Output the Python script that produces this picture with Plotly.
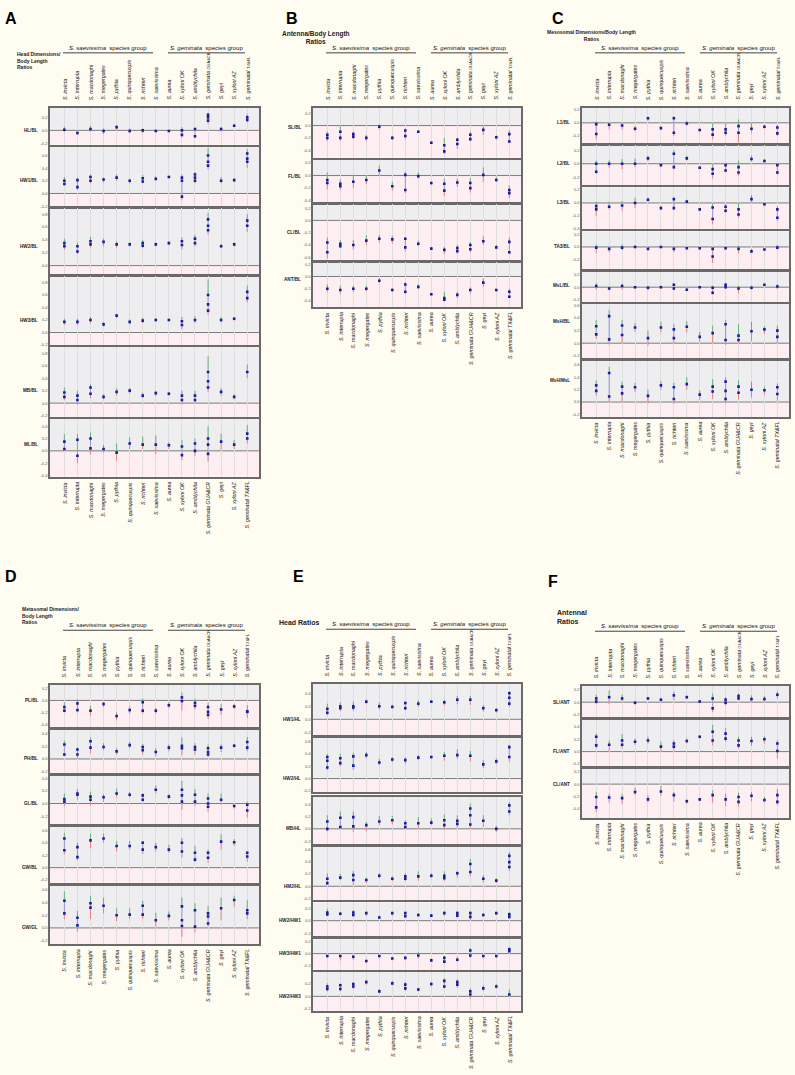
import plotly.graph_objects as go

W, H = 795, 1075

SPECIES = ["S. invicta", "S. interrupta", "S. macdonaghi", "S. megergates", "S. pythia",
           "S. quinquecuspis", "S. richteri", "S. saevissima", "S. aurea", "S. xyloni OK",
           "S. amblychila", "S. geminata GUA&CR", "S. geyi", "S. xyloni AZ", "S. geminata TX&FL"]
TOP_SPECIES = SPECIES[:11] + ["S. geminata §GUA&CR", "S. geyi", "S. xyloni AZ", "S. geminatal §TX&FL"]
BOTTOM_SPECIES = SPECIES[:14] + ["S. geminatal TX&FL"]

# ---------------- Panel A : Head dimensions / body length ----------------
A_HL_mean = [[0.01], [-0.04], [0.02], [-0.01], [0.05], [-0.01], [0.0], [-0.01], [-0.01], [0.0, -0.07],
             [0.02, -0.09], [0.24, 0.2, 0.15], [0.02], [0.07], [0.2, 0.16]]
A_HL_lo = [-0.03, -0.07, -0.02, -0.06, 0.0, -0.04, -0.04, -0.03, -0.03, -0.11, -0.12, 0.1, -0.02, 0.05, 0.12]
A_HL_hi = [0.06, 0.0, 0.07, 0.03, 0.08, 0.03, 0.03, 0.01, 0.01, 0.05, 0.04, 0.27, 0.05, 0.1, 0.25]

A_HW1_mean = [[0.2, 0.15], [0.21, 0.1], [0.26, 0.2], [0.22], [0.25], [0.2], [0.24, 0.19], [0.23], [0.26],
              [0.25, 0.2, -0.05], [0.3, 0.25, 0.2], [0.6, 0.5, 0.44], [0.2], [0.21], [0.63, 0.55, 0.5]]
A_HW1_lo = [0.13, 0.06, 0.16, 0.17, 0.2, 0.16, 0.16, 0.21, 0.24, -0.1, 0.16, 0.38, 0.16, 0.18, 0.4]
A_HW1_hi = [0.26, 0.25, 0.3, 0.25, 0.3, 0.23, 0.29, 0.27, 0.28, 0.3, 0.34, 0.72, 0.26, 0.24, 0.7]

A_HW2_mean = [[0.35, 0.3], [0.3, 0.22], [0.38, 0.33], [0.37], [0.33], [0.33], [0.35, 0.31], [0.33], [0.35],
              [0.38, 0.32], [0.42, 0.35], [0.72, 0.62, 0.55], [0.3], [0.33], [0.7, 0.62]]
A_HW2_lo = [0.25, 0.18, 0.28, 0.3, 0.28, 0.3, 0.27, 0.3, 0.32, 0.25, 0.3, 0.48, 0.27, 0.3, 0.52]
A_HW2_hi = [0.42, 0.36, 0.45, 0.42, 0.38, 0.36, 0.4, 0.36, 0.38, 0.44, 0.48, 0.82, 0.34, 0.36, 0.8]

A_HW3_mean = [[0.17], [0.17], [0.2], [0.13], [0.27], [0.17], [0.19], [0.2], [0.2], [0.18, 0.12], [0.2],
              [0.6, 0.45, 0.35], [0.2], [0.22], [0.65, 0.55]]
A_HW3_lo = [0.12, 0.12, 0.15, 0.1, 0.23, 0.13, 0.15, 0.17, 0.18, 0.05, 0.15, 0.28, 0.16, 0.19, 0.48]
A_HW3_hi = [0.22, 0.22, 0.25, 0.17, 0.3, 0.21, 0.24, 0.23, 0.22, 0.25, 0.26, 0.85, 0.25, 0.25, 0.75]

A_MB_mean = [[0.17, 0.1], [0.12, 0.05], [0.25, 0.15], [0.1], [0.18], [0.2], [0.12], [0.16], [0.15], [0.12, 0.05],
             [0.12, 0.05], [0.5, 0.35, 0.25], [0.18], [0.1], [0.5]]
A_MB_lo = [0.05, -0.02, 0.08, 0.06, 0.12, 0.15, 0.08, 0.12, 0.12, -0.02, 0.0, 0.18, 0.12, 0.06, 0.4]
A_MB_hi = [0.25, 0.2, 0.3, 0.14, 0.24, 0.24, 0.17, 0.2, 0.18, 0.2, 0.2, 0.75, 0.24, 0.14, 0.62]

A_ML_mean = [[0.15, 0.03], [0.18, -0.08], [0.2, 0.04], [0.03], [-0.03], [0.12], [0.1], [0.1], [0.09], [0.07, -0.07],
             [0.12, 0.0], [0.2, 0.1, -0.05], [0.15], [0.1], [0.28, 0.2]]
A_ML_lo = [0.0, -0.2, -0.06, -0.03, -0.16, 0.03, 0.03, -0.05, 0.03, -0.15, -0.08, -0.18, 0.02, 0.03, 0.12]
A_ML_hi = [0.27, 0.27, 0.3, 0.1, 0.12, 0.22, 0.23, 0.25, 0.14, 0.18, 0.2, 0.4, 0.28, 0.18, 0.42]

# ---------------- Panel B : Antenna / body length ----------------
B_SL_mean = [[-0.15, -0.2], [-0.1, -0.2], [-0.14, -0.18], [-0.2], [-0.02], [-0.2], [-0.08, -0.17], [-0.1], [-0.28],
             [-0.32, -0.42], [-0.23, -0.3], [-0.15, -0.22], [-0.07], [-0.19], [-0.14, -0.26]]
B_SL_lo = [-0.25, -0.25, -0.22, -0.25, -0.06, -0.23, -0.22, -0.12, -0.3, -0.46, -0.38, -0.25, -0.15, -0.23, -0.28]
B_SL_hi = [-0.1, 0.0, -0.1, -0.15, 0.02, -0.17, -0.05, -0.08, -0.26, -0.2, -0.2, -0.1, 0.0, -0.16, -0.08]

B_FL_mean = [[-0.07, -0.12], [-0.13, -0.17], [-0.1], [-0.07], [0.08], [-0.17], [0.01, -0.23], [-0.01], [-0.12],
             [-0.13, -0.24], [-0.11], [-0.12, -0.2], [0.01], [-0.07], [-0.23, -0.28]]
B_FL_lo = [-0.22, -0.23, -0.2, -0.14, 0.0, -0.24, -0.28, -0.05, -0.15, -0.32, -0.18, -0.27, -0.1, -0.1, -0.36]
B_FL_hi = [0.05, -0.06, 0.01, 0.0, 0.16, -0.1, 0.06, 0.05, -0.1, -0.05, -0.05, -0.04, 0.13, -0.02, -0.16]

B_CL_mean = [[-0.36, -0.52], [-0.38, -0.42], [-0.4], [-0.33], [-0.3], [-0.31], [-0.3, -0.44], [-0.38], [-0.46],
             [-0.48], [-0.45, -0.5], [-0.4, -0.47], [-0.34], [-0.44], [-0.35, -0.52]]
B_CL_lo = [-0.62, -0.44, -0.47, -0.4, -0.36, -0.38, -0.5, -0.42, -0.48, -0.55, -0.54, -0.52, -0.4, -0.47, -0.55]
B_CL_hi = [-0.28, -0.32, -0.32, -0.24, -0.24, -0.25, -0.28, -0.33, -0.44, -0.43, -0.4, -0.35, -0.26, -0.4, -0.28]

B_ANT_mean = [[-0.2], [-0.22], [-0.2], [-0.2], [-0.07], [-0.22], [-0.13, -0.25], [-0.17], [-0.29], [-0.35, -0.38],
              [-0.3], [-0.22], [-0.1], [-0.22], [-0.25, -0.33]]
B_ANT_lo = [-0.25, -0.28, -0.26, -0.24, -0.1, -0.25, -0.28, -0.2, -0.3, -0.4, -0.35, -0.28, -0.17, -0.25, -0.35]
B_ANT_hi = [-0.13, -0.15, -0.15, -0.15, -0.03, -0.19, -0.1, -0.13, -0.28, -0.25, -0.25, -0.18, -0.03, -0.2, -0.2]

# ---------------- Panel C : Mesosomal dimensions / body length ----------------
C_L1_mean = [[-0.02, -0.17], [-0.03], [-0.04], [-0.09], [0.07], [-0.08], [0.07, -0.15], [-0.01], [-0.11],
             [-0.1, -0.18], [-0.1, -0.15], [-0.05, -0.15], [-0.09], [-0.06], [-0.07, -0.16]]
C_L1_lo = [-0.25, -0.1, -0.1, -0.13, 0.03, -0.1, -0.2, -0.04, -0.13, -0.25, -0.2, -0.3, -0.15, -0.09, -0.2]
C_L1_hi = [0.02, 0.0, 0.0, -0.05, 0.1, -0.06, 0.1, 0.03, -0.09, 0.0, 0.0, 0.05, 0.0, -0.03, -0.03]

C_L2_mean = [[0.0, -0.12], [0.0], [0.0], [0.0], [0.08], [-0.02], [0.15, -0.05], [0.08], [-0.06], [-0.08, -0.15],
             [-0.02, -0.1], [-0.05, -0.13], [0.07], [0.04], [-0.02, -0.13]]
C_L2_lo = [-0.15, -0.06, -0.08, -0.05, 0.04, -0.04, -0.08, 0.05, -0.08, -0.22, -0.12, -0.18, 0.03, 0.0, -0.16]
C_L2_hi = [0.05, 0.05, 0.07, 0.08, 0.12, 0.0, 0.2, 0.12, -0.04, 0.0, 0.0, 0.05, 0.12, 0.07, 0.0]

C_L3_mean = [[-0.05, -0.1], [-0.06], [-0.04], [0.0], [0.05], [-0.08], [0.06, -0.08], [0.02], [-0.1],
             [-0.07, -0.25], [-0.06, -0.12], [-0.1, -0.18], [0.06], [-0.02], [-0.1, -0.23]]
C_L3_lo = [-0.2, -0.1, -0.12, -0.08, 0.02, -0.1, -0.1, -0.01, -0.12, -0.33, -0.15, -0.23, 0.0, -0.05, -0.28]
C_L3_hi = [0.02, 0.02, 0.03, 0.08, 0.08, -0.05, 0.08, 0.05, -0.08, 0.0, -0.02, 0.0, 0.12, 0.0, -0.05]

C_TA_mean = [[-0.01], [-0.03], [-0.01], [0.0], [-0.03], [0.0], [-0.03], [-0.02], [-0.02], [-0.03, -0.15],
             [-0.02], [-0.03], [-0.07], [-0.04], [-0.01]]
C_TA_lo = [-0.1, -0.08, -0.05, -0.02, -0.05, -0.02, -0.08, -0.03, -0.04, -0.25, -0.04, -0.1, -0.09, -0.05, -0.04]
C_TA_hi = [0.04, 0.0, 0.04, 0.03, -0.01, 0.01, 0.01, 0.0, 0.0, 0.0, 0.01, 0.02, -0.03, -0.02, 0.03]

C_MSL_mean = [[0.02], [-0.02], [0.02], [0.0], [-0.01], [0.0], [0.04, -0.02], [-0.04], [0.0], [-0.01, -0.09],
              [0.04, 0.0], [-0.02], [-0.01], [0.04], [0.01]]
C_MSL_lo = [-0.04, -0.05, -0.04, -0.02, -0.05, -0.02, -0.04, -0.06, -0.01, -0.12, -0.02, -0.1, -0.04, 0.02, -0.03]
C_MSL_hi = [0.06, 0.01, 0.06, 0.02, 0.02, 0.03, 0.06, 0.0, 0.01, 0.02, 0.07, 0.02, 0.02, 0.05, 0.05]

C_MSH_mean = [[0.27, 0.14], [0.43, 0.06], [0.28, 0.13], [0.25], [0.08], [0.25], [0.22, 0.08], [0.26], [0.1],
              [0.16], [0.3, 0.05], [0.12, 0.05], [0.19], [0.22], [0.2, 0.1]]
C_MSH_lo = [0.07, -0.02, 0.0, 0.18, -0.04, 0.17, 0.0, 0.17, 0.02, 0.0, -0.03, 0.0, 0.03, 0.15, 0.0]
C_MSH_hi = [0.37, 0.53, 0.37, 0.32, 0.2, 0.34, 0.3, 0.35, 0.18, 0.28, 0.37, 0.3, 0.34, 0.27, 0.28]

C_MSHL_mean = [[0.27, 0.18], [0.47, 0.09], [0.25, 0.14], [0.24], [0.1], [0.27], [0.24, 0.05], [0.29], [0.12],
               [0.25, 0.17], [0.33, 0.18, 0.05], [0.25, 0.15], [0.2], [0.19], [0.24, 0.13]]
C_MSHL_lo = [0.1, 0.0, 0.0, 0.16, -0.02, 0.2, -0.03, 0.2, 0.03, 0.05, -0.02, 0.04, 0.07, 0.12, 0.02]
C_MSHL_hi = [0.35, 0.57, 0.33, 0.31, 0.2, 0.34, 0.31, 0.4, 0.19, 0.37, 0.4, 0.35, 0.33, 0.25, 0.3]

# ---------------- Panel D : Metasomal dimensions / body length ----------------
D_PL_mean = [[-0.11, -0.17], [-0.05, -0.16], [-0.17], [-0.06], [-0.26], [-0.16], [-0.03, -0.17], [-0.17], [-0.08],
             [0.05, -0.01], [-0.04, -0.09], [-0.11, -0.19, -0.24], [-0.15], [-0.1], [-0.18, -0.19]]
D_PL_lo = [-0.2, -0.2, -0.25, -0.11, -0.33, -0.22, -0.22, -0.22, -0.13, -0.17, -0.15, -0.31, -0.24, -0.14, -0.29]
D_PL_hi = [-0.03, 0.02, -0.09, -0.02, -0.2, -0.1, 0.03, -0.13, -0.03, 0.13, 0.03, -0.04, -0.06, -0.06, -0.08]

D_PH_mean = [[0.23, 0.07], [0.15, 0.07], [0.28, 0.18], [0.19], [0.12], [0.22], [0.19, 0.14], [0.11], [0.18],
             [0.21, 0.17], [0.19, 0.15], [0.17, 0.11, 0.07], [0.18], [0.21], [0.27, 0.18]]
D_PH_lo = [0.05, 0.0, 0.09, 0.14, 0.07, 0.17, 0.07, 0.04, 0.12, 0.06, 0.07, 0.03, 0.11, 0.18, 0.12]
D_PH_hi = [0.29, 0.18, 0.34, 0.25, 0.17, 0.27, 0.24, 0.17, 0.23, 0.34, 0.25, 0.23, 0.23, 0.24, 0.35]

D_GL_mean = [[0.07, 0.03], [0.16, 0.14], [0.11, 0.06], [0.1], [0.16], [0.14], [0.13, 0.06], [0.22], [0.11],
             [0.22, 0.13, 0.03], [0.14, 0.03], [0.08, 0.0, -0.05], [0.06], [-0.04], [-0.02, -0.11]]
D_GL_lo = [-0.04, 0.06, -0.03, 0.02, 0.1, 0.1, 0.02, 0.16, 0.07, -0.1, -0.04, -0.13, -0.02, -0.08, -0.22]
D_GL_hi = [0.16, 0.23, 0.19, 0.15, 0.24, 0.18, 0.16, 0.29, 0.15, 0.36, 0.23, 0.16, 0.16, -0.01, 0.03]

D_GW_mean = [[0.47, 0.28], [0.33, 0.17], [0.44], [0.47], [0.35], [0.35], [0.4, 0.29], [0.33], [0.29],
             [0.4, 0.26], [0.24, 0.13], [0.24, 0.16], [0.42], [0.41], [0.24, 0.18]]
D_GW_lo = [0.21, 0.12, 0.31, 0.4, 0.26, 0.29, 0.22, 0.26, 0.24, 0.16, 0.09, 0.08, 0.29, 0.35, 0.1]
D_GW_hi = [0.56, 0.4, 0.55, 0.55, 0.43, 0.43, 0.43, 0.4, 0.37, 0.48, 0.35, 0.29, 0.54, 0.46, 0.26]

D_GWGL_mean = [[0.43, 0.23], [0.16, 0.04], [0.39, 0.32], [0.35], [0.2], [0.21], [0.35, 0.21], [0.12], [0.19],
               [0.34, 0.12, 0.03], [0.28, 0.02], [0.23, 0.18, 0.07], [0.31], [0.44], [0.28, 0.23]]
D_GWGL_lo = [0.14, -0.06, 0.14, 0.23, 0.11, 0.14, 0.14, 0.02, 0.12, -0.14, -0.07, 0.02, 0.12, 0.34, 0.14]
D_GWGL_hi = [0.58, 0.27, 0.51, 0.48, 0.31, 0.31, 0.43, 0.24, 0.26, 0.48, 0.39, 0.35, 0.48, 0.51, 0.44]

# ---------------- Panel E : Head ratios ----------------
E_HW1HL_mean = [[0.16, 0.1], [0.2, 0.17], [0.2, 0.18], [0.27], [0.2], [0.19], [0.25, 0.17], [0.24], [0.27],
                [0.26], [0.3], [0.3], [0.17], [0.14], [0.4, 0.33, 0.24]]
E_HW1HL_lo = [0.06, 0.13, 0.13, 0.23, 0.15, 0.17, 0.14, 0.19, 0.25, 0.21, 0.23, 0.22, 0.12, 0.1, 0.19]
E_HW1HL_hi = [0.24, 0.26, 0.27, 0.3, 0.26, 0.22, 0.27, 0.29, 0.29, 0.3, 0.36, 0.36, 0.22, 0.17, 0.43]

E_HW2HL_mean = [[0.35, 0.29, 0.18], [0.33, 0.25], [0.36, 0.21], [0.38], [0.26], [0.31], [0.3], [0.34], [0.35],
                [0.37], [0.38], [0.37], [0.23], [0.28], [0.51, 0.35]]
E_HW2HL_lo = [0.14, 0.2, 0.14, 0.33, 0.22, 0.26, 0.24, 0.3, 0.32, 0.29, 0.32, 0.27, 0.17, 0.23, 0.27]
E_HW2HL_hi = [0.4, 0.4, 0.42, 0.43, 0.32, 0.35, 0.35, 0.38, 0.37, 0.43, 0.48, 0.45, 0.3, 0.33, 0.55]

E_MBHL_mean = [[0.12, 0.0], [0.18, 0.03], [0.19, 0.04], [0.06], [0.12], [0.14], [0.09, 0.03], [0.09], [0.1],
               [0.14, 0.06], [0.13, 0.08], [0.33, 0.22, 0.07], [0.13], [0.0], [0.38, 0.28]]
E_MBHL_lo = [-0.04, -0.0, -0.05, -0.04, 0.06, 0.07, -0.0, 0.0, 0.06, -0.02, 0.02, -0.0, 0.03, -0.05, 0.22]
E_MBHL_hi = [0.22, 0.28, 0.28, 0.11, 0.21, 0.21, 0.14, 0.19, 0.17, 0.23, 0.22, 0.41, 0.22, 0.05, 0.43]

E_HM2HL_mean = [[0.12, 0.05], [0.14], [0.18, 0.1], [0.1], [0.17], [0.12], [0.16, 0.12], [0.16], [0.17],
                [0.17, 0.13], [0.21], [0.36, 0.23], [0.12], [0.09], [0.49, 0.39, 0.31]]
E_HM2HL_lo = [0.02, 0.1, 0.02, 0.05, 0.13, 0.08, 0.08, 0.09, 0.13, 0.09, 0.14, 0.16, 0.06, 0.05, 0.25]
E_HM2HL_hi = [0.21, 0.2, 0.25, 0.14, 0.21, 0.16, 0.21, 0.24, 0.21, 0.24, 0.25, 0.44, 0.18, 0.13, 0.55]

E_HW2HW1_mean = [[0.13, 0.1], [0.11], [0.13, 0.09], [0.12], [0.05], [0.12], [0.12, 0.07], [0.09], [0.08],
                 [0.12], [0.12, 0.08], [0.12, 0.06], [0.09], [0.12], [0.1, 0.06]]
E_HW2HW1_lo = [0.08, 0.08, 0.06, 0.08, 0.03, 0.08, 0.05, 0.06, 0.06, 0.08, 0.05, 0.01, 0.06, 0.09, 0.03]
E_HW2HW1_hi = [0.19, 0.14, 0.17, 0.14, 0.08, 0.14, 0.14, 0.12, 0.1, 0.15, 0.15, 0.15, 0.12, 0.14, 0.14]

E_HW3HW1_mean = [[-0.04], [-0.04], [-0.05], [-0.12], [-0.04], [-0.08], [-0.07], [-0.03], [-0.11],
                 [-0.07, -0.13], [-0.1], [0.05, -0.03], [-0.04], [-0.04], [0.07, 0.04]]
E_HW3HW1_lo = [-0.07, -0.11, -0.1, -0.15, -0.07, -0.11, -0.1, -0.08, -0.13, -0.16, -0.13, -0.07, -0.07, -0.07,
               0.02]
E_HW3HW1_hi = [-0.02, -0.01, -0.02, -0.1, -0.02, -0.05, -0.04, 0.03, -0.08, -0.04, -0.05, 0.09, -0.02, -0.02,
               0.11]

E_HW2HW3_mean = [[0.16, 0.12], [0.18, 0.12], [0.2, 0.16], [0.23], [0.08], [0.21], [0.19, 0.13], [0.11], [0.2],
                 [0.25, 0.16], [0.23, 0.19], [0.08, 0.03], [0.13], [0.16], [0.03]]
E_HW2HW3_lo = [0.08, 0.08, 0.12, 0.19, 0.05, 0.18, 0.09, 0.08, 0.16, 0.13, 0.14, -0.04, 0.09, 0.13, 0.0]
E_HW2HW3_hi = [0.21, 0.21, 0.23, 0.27, 0.12, 0.25, 0.23, 0.14, 0.23, 0.29, 0.28, 0.13, 0.18, 0.2, 0.11]

# ---------------- Panel F : Antennal ratios ----------------
F_SLANT_mean = [[0.06, 0.01], [0.08], [0.06], [-0.01], [0.06], [0.04], [0.11], [0.08], [0.01], [0.06, -0.1],
                [0.04, -0.01], [0.1, 0.06], [0.05], [0.05], [0.12]]
F_SLANT_lo = [-0.03, -0.03, 0.01, -0.04, 0.04, 0.01, 0.03, 0.05, -0.01, -0.16, -0.05, 0.03, 0.0, 0.01, 0.06]
F_SLANT_hi = [0.12, 0.19, 0.12, 0.01, 0.08, 0.06, 0.17, 0.11, 0.03, 0.14, 0.08, 0.14, 0.11, 0.1, 0.17]

F_FLANT_mean = [[0.24, 0.1], [0.11], [0.18, 0.11], [0.16], [0.18], [0.08], [0.13, 0.08], [0.17], [0.24],
                [0.32, 0.18], [0.29, 0.21], [0.18, 0.1], [0.17], [0.2], [0.13, 0.01]]
F_FLANT_lo = [0.05, 0.01, 0.05, 0.11, 0.13, 0.01, 0.02, 0.13, 0.21, 0.1, 0.16, 0.05, 0.09, 0.13, -0.11]
F_FLANT_hi = [0.29, 0.18, 0.28, 0.21, 0.24, 0.16, 0.18, 0.21, 0.26, 0.43, 0.38, 0.24, 0.24, 0.25, 0.18]

F_CLANT_mean = [[-0.21, -0.38], [-0.22], [-0.23], [-0.13], [-0.25], [-0.12], [-0.18], [-0.28], [-0.25],
                [-0.18], [-0.25], [-0.21, -0.29], [-0.19], [-0.26], [-0.18, -0.29]]
F_CLANT_lo = [-0.46, -0.3, -0.32, -0.18, -0.3, -0.19, -0.29, -0.32, -0.28, -0.3, -0.36, -0.37, -0.28, -0.3, -0.34]
F_CLANT_hi = [-0.13, -0.16, -0.16, -0.06, -0.18, -0.03, -0.13, -0.24, -0.23, -0.1, -0.16, -0.14, -0.13, -0.21,
              -0.08]

# ---------------- layout description (pixel positions) ----------------
T = [0.6, 0.4, 0.2, 0.0, -0.2, -0.4, -0.6, 0.8]
PANELS = [
    dict(letter="A", lx=3, ly=7, title="Head Dimensions/<br>Body Length<br>Ratios", tx=15, ty=48, tsize=5,
         talign="left", x0=50, x1=259,
         rows=[("HL/BL", A_HL_mean, A_HL_lo, A_HL_hi, (-0.22, 0.35), 107, 144, 0.0),
               ("HW1/BL", A_HW1_mean, A_HW1_lo, A_HW1_hi, (-0.22, 0.74), 146, 207, 0.2),
               ("HW2/BL", A_HW2_mean, A_HW2_lo, A_HW2_hi, (-0.15, 0.89), 208, 275, 0.3),
               ("HW3/BL", A_HW3_mean, A_HW3_lo, A_HW3_hi, (-0.2, 0.9), 276, 345, 0.2),
               ("MB/BL", A_MB_mean, A_MB_lo, A_MB_hi, (-0.22, 0.9), 347, 417, 0.2),
               ("ML/BL", A_ML_mean, A_ML_lo, A_ML_hi, (-0.42, 0.52), 419, 477, 0.1)]),
    dict(letter="B", lx=284, ly=7, title="Antenna/Body Length<br>Ratios", tx=280, ty=27, tsize=6.5,
         talign="center", x0=313, x1=521,
         rows=[("SL/BL", B_SL_mean, B_SL_lo, B_SL_hi, (-0.52, 0.29), 107, 157, -0.03),
               ("FL/BL", B_FL_mean, B_FL_lo, B_FL_hi, (-0.445, 0.255), 159, 203, -0.02),
               ("CL/BL", B_CL_mean, B_CL_lo, B_CL_hi, (-0.666, 0.26), 204, 261, -0.2),
               ("ANT/BL", B_ANT_mean, B_ANT_lo, B_ANT_hi, (-0.5, 0.232), 262, 307, -0.05)]),
    dict(letter="C", lx=550, ly=7, title="Mesosomal Dimensions/Body Length<br>Ratios", tx=545, ty=26, tsize=5,
         talign="center", x0=582, x1=789,
         rows=[("L1/BL", C_L1_mean, C_L1_lo, C_L1_hi, (-0.316, 0.23), 107, 143, 0.0),
               ("L2/BL", C_L2_mean, C_L2_lo, C_L2_hi, (-0.325, 0.286), 144, 185, 0.0),
               ("L3/BL", C_L3_mean, C_L3_lo, C_L3_hi, (-0.41, 0.24), 187, 229, 0.0),
               ("TA3/BL", C_TA_mean, C_TA_lo, C_TA_hi, (-0.35, 0.245), 231, 269, 0.0),
               ("MsL/BL", C_MSL_mean, C_MSL_lo, C_MSL_hi, (-0.24, 0.24), 272, 302, 0.03),
               ("MsH/BL", C_MSH_mean, C_MSH_lo, C_MSH_hi, (-0.235, 0.62), 304, 358, 0.35),
               ("MsH/MsL", C_MSHL_mean, C_MSHL_lo, C_MSHL_hi, (-0.24, 0.665), 361, 417, 0.35)]),
    dict(letter="D", lx=3, ly=567, title="Metasomal Dimensions/<br>Body Length<br>Ratios", tx=20, ty=605, tsize=5,
         talign="left", x0=50, x1=259,
         rows=[("PL/BL", D_PL_mean, D_PL_lo, D_PL_hi, (-0.44, 0.254), 686, 728, 0.0),
               ("PH/BL", D_PH_mean, D_PH_lo, D_PH_hi, (-0.22, 0.46), 731, 774, 0.0),
               ("GL/BL", D_GL_mean, D_GL_lo, D_GL_hi, (-0.32, 0.44), 777, 825, 0.0),
               ("GW/BL", D_GW_mean, D_GW_lo, D_GW_hi, (-0.24, 0.66), 828, 884, 0.0),
               ("GW/GL", D_GWGL_mean, D_GWGL_lo, D_GWGL_hi, (-0.26, 0.67), 887, 946, 0.0)]),
    dict(letter="E", lx=291, ly=567, title="Head Ratios", tx=277, ty=618, tsize=7, talign="left",
         x0=313, x1=521,
         rows=[("HW1/HL", E_HW1HL_mean, E_HW1HL_lo, E_HW1HL_hi, (-0.24, 0.54), 685, 736, 0.0),
               ("HW2/HL", E_HW2HL_mean, E_HW2HL_lo, E_HW2HL_hi, (-0.215, 0.66), 739, 793, 0.0),
               ("MB/HL", E_MBHL_mean, E_MBHL_lo, E_MBHL_hi, (-0.24, 0.52), 798, 845, 0.0),
               ("HM2/HL", E_HM2HL_mean, E_HM2HL_lo, E_HM2HL_hi, (-0.23, 0.64), 848, 902, 0.0),
               ("HW2/HW1", E_HW2HW1_mean, E_HW2HW1_lo, E_HW2HW1_hi, (-0.25, 0.29), 904, 938, 0.0),
               ("HW3/HW1", E_HW3HW1_mean, E_HW3HW1_lo, E_HW3HW1_hi, (-0.27, 0.23), 941, 972, 0.0),
               ("HW2/HW3", E_HW2HW3_mean, E_HW2HW3_lo, E_HW2HW3_hi, (-0.24, 0.39), 974, 1013, 0.0)]),
    dict(letter="F", lx=546, ly=572, title="Antennal<br>Ratios", tx=555, ty=608, tsize=7, talign="left",
         x0=582, x1=789,
         rows=[("SL/ANT", F_SLANT_mean, F_SLANT_lo, F_SLANT_hi, (-0.24, 0.26), 687, 718, 0.0),
               ("FL/ANT", F_FLANT_mean, F_FLANT_lo, F_FLANT_hi, (-0.23, 0.51), 721, 767, 0.0),
               ("CL/ANT", F_CLANT_mean, F_CLANT_lo, F_CLANT_hi, (-0.55, 0.25), 770, 819, 0.0)]),
]

FONT = "Arial, Liberation Sans, sans-serif"
GREEN, RED, BLUE, MID = "#55ad6f", "#f07373", "#1c1c9e", "#8a80c8"
GRAY_BG, PINK_BG = "#eeeef1", "#fdeef1"


def fmt_tick(v):
    return "0.0" if abs(v) < 1e-9 else ("%.1f" % v)


def species_label(s):
    if "§" in s:
        a, b = s.split("§")
        return "<i>%s</i><span style='font-size:4px'>%s</span>" % (a, b.replace("&", "&amp;"))
    return "<i>%s</i>" % s.replace("&", "&amp;")


def axname(letter, k):
    return letter if k == 1 else "%s%d" % (letter, k)


fig = go.Figure()
layout = {}
shapes, annots = [], []
k = 0
for P in PANELS:
    x0, x1 = P["x0"], P["x1"]
    first_k = k + 1
    for (lab, means, lo, hi, yr, top, bot, laby) in P["rows"]:
        k += 1
        xa, ya = axname("x", k), axname("y", k)
        xs = list(range(len(SPECIES)))
        gx, gy, rx, ry, mx, my, bx, by = [], [], [], [], [], [], [], []
        for i in xs:
            m = means[i]
            top_m, bot_m = max(m), min(m)
            gx += [i, i, None]; gy += [top_m, hi[i], None]
            rx += [i, i, None]; ry += [lo[i], bot_m, None]
            if len(m) > 1:
                mx += [i, i, None]; my += [bot_m, top_m, None]
            for v in m:
                bx.append(i); by.append(v)
        common = dict(xaxis=xa, yaxis=ya, showlegend=False, hoverinfo="skip")
        fig.add_trace(go.Scatter(x=mx, y=my, mode="lines", line=dict(color=MID, width=1), opacity=0.8, **common))
        fig.add_trace(go.Scatter(x=gx, y=gy, mode="lines", line=dict(color=GREEN, width=1), opacity=0.9, **common))
        fig.add_trace(go.Scatter(x=rx, y=ry, mode="lines", line=dict(color=RED, width=1), opacity=0.9, **common))
        fig.add_trace(go.Scatter(x=bx, y=by, mode="markers",
                                 marker=dict(color=BLUE, size=2.6, symbol="square"), **common))
        ticks = [t for t in sorted(set(T)) if yr[0] - 1e-9 <= t <= yr[1] + 1e-9]
        layout[axname("xaxis", k)] = dict(domain=[x0 / W, x1 / W], anchor=ya, range=[-1.1, 14.9],
                                         showticklabels=False, ticks="", tickvals=xs, showgrid=True,
                                         gridcolor="#dedede", gridwidth=0.5, zeroline=False,
                                         showline=True, mirror=True, linecolor="#6a6a6a", linewidth=1.5,
                                         fixedrange=True)
        layout[axname("yaxis", k)] = dict(domain=[1 - bot / H, 1 - top / H], anchor=xa, range=list(yr),
                                         tickvals=ticks, ticktext=[fmt_tick(t) for t in ticks],
                                         tickfont=dict(size=4, color="#555", family=FONT), ticks="",
                                         showgrid=False, zeroline=False, showline=True, mirror=True,
                                         linecolor="#6a6a6a", linewidth=1.5, fixedrange=True)
        shapes.append(dict(type="rect", xref=xa + " domain", yref=ya, x0=0, x1=1, y0=0, y1=yr[1],
                           fillcolor=GRAY_BG, line=dict(width=0), layer="below"))
        shapes.append(dict(type="line", xref=xa + " domain", yref=ya, x0=0, x1=1, y0=0, y1=0,
                           line=dict(color="#7c7c7c", width=1), layer="below"))
        annots.append(dict(text="<b>%s</b>" % lab, xref="paper", yref=ya, x=(x0 - 10) / W, y=laby,
                           xanchor="right", yanchor="middle", showarrow=False,
                           font=dict(size=4.6, color="#222", family=FONT)))
    last_k = k
    ptop = P["rows"][0][5]
    pbot = P["rows"][-1][6]
    for i in range(len(SPECIES)):
        annots.append(dict(text=species_label(TOP_SPECIES[i]), xref=axname("x", first_k), yref="paper",
                           x=i, y=1 - (ptop - 6) / H, xanchor="center", yanchor="bottom",
                           textangle=-90, showarrow=False, font=dict(size=5.3, color="#111", family=FONT)))
        annots.append(dict(text=species_label(BOTTOM_SPECIES[i]), xref=axname("x", last_k), yref="paper",
                           x=i, y=1 - (pbot + 3) / H, xanchor="center", yanchor="top",
                           textangle=-90, showarrow=False, font=dict(size=5.3, color="#111", family=FONT)))
    hy = ptop - 60
    for (txt, a, b) in [("<i>S. saevissima</i>  species group", 13, 103),
                        ("<i>S. geminata</i>  species group", 118, 195)]:
        annots.append(dict(text=txt, xref="paper", yref="paper", x=(x0 + (a + b) / 2) / W, y=1 - hy / H,
                           xanchor="center", yanchor="middle", showarrow=False,
                           font=dict(size=6, color="#111", family=FONT)))
        shapes.append(dict(type="line", xref="paper", yref="paper", x0=(x0 + a) / W, x1=(x0 + b) / W,
                           y0=1 - (hy + 5) / H, y1=1 - (hy + 5) / H, line=dict(color="#444", width=1)))
    annots.append(dict(text="<b>%s</b>" % P["letter"], xref="paper", yref="paper", x=P["lx"] / W,
                       y=1 - P["ly"] / H, xanchor="left", yanchor="top", showarrow=False,
                       font=dict(size=16, color="#000", family=FONT)))
    annots.append(dict(text="<b>%s</b>" % P["title"], xref="paper", yref="paper", x=P["tx"] / W,
                       y=1 - P["ty"] / H, xanchor="left", yanchor="top", align=P["talign"],
                       showarrow=False, font=dict(size=P["tsize"], color="#222", family=FONT)))

fig.update_layout(width=W, height=H, autosize=False, margin=dict(l=0, r=0, t=0, b=0),
                  paper_bgcolor="#fffcf1", plot_bgcolor=PINK_BG, shapes=shapes, annotations=annots,
                  **layout)
fig.write_html("out.html", config={"displayModeBar": False},
               post_script="document.body.style.margin='0';")
